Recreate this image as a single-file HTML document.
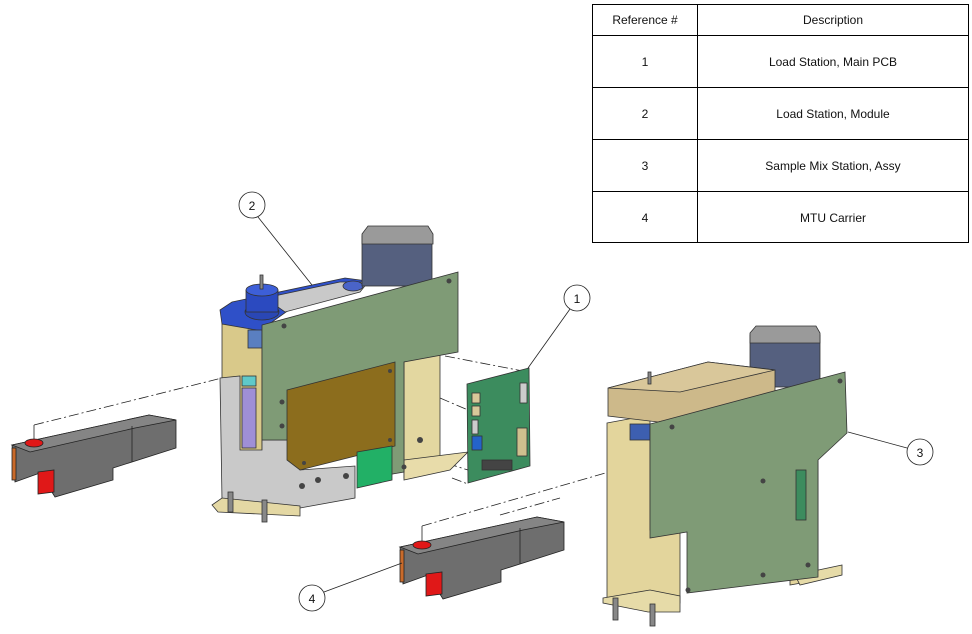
<!DOCTYPE html>
<html><head><meta charset="utf-8"><style>
html,body{margin:0;padding:0;background:#fff;width:972px;height:634px;overflow:hidden}
svg{display:block}
text{font-family:"Liberation Sans",Arial,sans-serif;fill:#111}
</style></head><body>
<svg width="972" height="634" viewBox="0 0 972 634" xmlns="http://www.w3.org/2000/svg">
<!-- table -->
<g stroke="#000" stroke-width="1" fill="none">
<rect x="592.5" y="4.5" width="376" height="238"/>
<line x1="697.5" y1="4.5" x2="697.5" y2="242.5"/>
<line x1="592.5" y1="35.5" x2="968.5" y2="35.5"/>
<line x1="592.5" y1="87.5" x2="968.5" y2="87.5"/>
<line x1="592.5" y1="139.5" x2="968.5" y2="139.5"/>
<line x1="592.5" y1="191.5" x2="968.5" y2="191.5"/>
</g>
<g font-size="12" text-anchor="middle">
<text x="645" y="24">Reference #</text><text x="833" y="24">Description</text>
<text x="645" y="66">1</text><text x="833" y="66">Load Station, Main PCB</text>
<text x="645" y="118">2</text><text x="833" y="118">Load Station, Module</text>
<text x="645" y="170">3</text><text x="833" y="170">Sample Mix Station, Assy</text>
<text x="645" y="222">4</text><text x="833" y="222">MTU Carrier</text>
</g>

<!-- dashed lines -->
<g stroke="#222" stroke-width="0.8" fill="none" stroke-dasharray="10,3,2,3">
<line x1="34" y1="425" x2="222" y2="378"/>
<line x1="445" y1="356" x2="528" y2="372"/>
<line x1="440" y1="398" x2="468" y2="410"/>
<line x1="430" y1="458" x2="468" y2="470"/>
<line x1="452" y1="478" x2="468" y2="484"/>
<line x1="422" y1="526" x2="640" y2="463"/>
<line x1="500" y1="515" x2="560" y2="498"/>
</g>
<line x1="34" y1="425" x2="34" y2="443" stroke="#222" stroke-width="0.8"/>
<line x1="422" y1="526" x2="422" y2="545" stroke="#222" stroke-width="0.8"/>

<!-- ============ Module 2 ============ -->
<g stroke="#333" stroke-width="0.8">
<!-- tan back plates -->
<polygon points="222,323 262,318 262,470 222,470" fill="#d9c98a"/>
<polygon points="404,360 440,352 440,470 404,478" fill="#e3d7a0"/>
<polygon points="404,460 468,452 450,470 404,480" fill="#e8dcaa"/>
<!-- grey bracket -->
<polygon points="220,378 240,376 240,450 262,450 262,440 300,440 300,470 355,466 355,498 300,508 262,506 222,500" fill="#c9c9c9"/>
<rect x="242" y="388" width="14" height="60" fill="#9f8fd6"/>
<rect x="242" y="376" width="14" height="10" fill="#5fc9c9"/>
<!-- blue top -->
<polygon points="220,310 232,302 345,278 375,282 300,302 272,322 268,332 222,324" fill="#2f50c8"/>
<polygon points="265,298 340,282 368,282 360,292 285,312" fill="#c9c9c9"/>
<ellipse cx="262" cy="312" rx="17" ry="8" fill="#2a47b5"/>
<rect x="246" y="290" width="32" height="22" fill="#2b4ac0"/>
<ellipse cx="262" cy="290" rx="16" ry="6" fill="#3d5fd8"/>
<rect x="260" y="275" width="3" height="14" fill="#888"/>
<ellipse cx="353" cy="286" rx="10" ry="5" fill="#4a64c8"/>
<rect x="248" y="330" width="14" height="18" fill="#5a7fc0"/>
<!-- motor -->
<rect x="362" y="236" width="70" height="50" fill="#55607f"/>
<polygon points="362,234 368,226 428,226 433,234 433,244 362,244" fill="#9a9a9a"/>
<!-- green plate -->
<polygon points="262,325 458,272 458,352 404,362 404,472 358,480 358,440 262,440" fill="#7f9b76"/>
<!-- brown panel -->
<polygon points="287,390 395,362 395,446 300,470 287,460" fill="#8c6d1d"/>
<!-- green small -->
<polygon points="357,452 392,446 392,480 357,488" fill="#22b066"/>
<!-- foot -->
<polygon points="212,505 222,498 300,506 300,516 218,512" fill="#e4d8a4"/>
<rect x="228" y="492" width="5" height="20" fill="#888"/>
<rect x="262" y="500" width="5" height="22" fill="#888"/>
</g>
<g fill="#444">
<circle cx="284" cy="326" r="2.5"/><circle cx="449" cy="281" r="2.5"/><circle cx="282" cy="402" r="2.5"/>
<circle cx="282" cy="426" r="2.5"/><circle cx="390" cy="371" r="2"/><circle cx="390" cy="440" r="2"/>
<circle cx="304" cy="463" r="2"/><circle cx="302" cy="486" r="3"/><circle cx="318" cy="480" r="3"/><circle cx="346" cy="476" r="3"/>
<circle cx="404" cy="467" r="2.5"/><circle cx="420" cy="440" r="3"/>
</g>

<!-- ============ PCB 1 ============ -->
<g stroke="#333" stroke-width="0.8">
<polygon points="467,384 529,368 530,466 468,483" fill="#3c8c5e"/>
<rect x="472" y="393" width="8" height="10" fill="#d8c89a"/>
<rect x="472" y="406" width="8" height="10" fill="#d8c89a"/>
<rect x="472" y="420" width="6" height="14" fill="#ccc"/>
<rect x="472" y="436" width="10" height="14" fill="#2463c9"/>
<rect x="520" y="383" width="7" height="20" fill="#ccc"/>
<rect x="517" y="428" width="10" height="28" fill="#cfc08e"/>
<rect x="482" y="460" width="30" height="10" fill="#444"/>
</g>

<!-- ============ Carrier left ============ -->
<g stroke="#222" stroke-width="0.8">
<polygon points="12,445 149,415 176,420 176,448 132,462 113,468 113,480 55,497 40,473 15,482" fill="#6e6e6e"/>
<polygon points="12,445 149,415 176,420 135,428 30,452" fill="#858585"/>
<line x1="132" y1="426" x2="132" y2="462"/>
<polygon points="38,472 54,470 54,492 38,494" fill="#e01818"/>
<rect x="12" y="448" width="4" height="32" fill="#c96a2a"/>
<ellipse cx="34" cy="443" rx="9" ry="4" fill="#e01818"/>
</g>
<!-- ============ Carrier 4 ============ -->
<g stroke="#222" stroke-width="0.8" transform="translate(388,102)">
<polygon points="12,445 149,415 176,420 176,448 132,462 113,468 113,480 55,497 40,473 15,482" fill="#6e6e6e"/>
<polygon points="12,445 149,415 176,420 135,428 30,452" fill="#858585"/>
<line x1="132" y1="426" x2="132" y2="462"/>
<polygon points="38,472 54,470 54,492 38,494" fill="#e01818"/>
<rect x="12" y="448" width="4" height="32" fill="#c96a2a"/>
<ellipse cx="34" cy="443" rx="9" ry="4" fill="#e01818"/>
</g>

<!-- ============ Module 3 ============ -->
<g stroke="#333" stroke-width="0.8">
<polygon points="607,423 650,415 650,530 680,524 680,603 607,600" fill="#e3d59c"/>
<polygon points="790,460 818,455 818,580 790,585" fill="#e3d59c"/>
<polygon points="603,598 650,590 680,596 680,612 648,612 603,603" fill="#e6dba8"/>
<polygon points="795,575 842,565 842,575 800,585" fill="#e6dba8"/>
<rect x="750" y="335" width="70" height="52" fill="#55607f"/>
<polygon points="750,333 756,326 816,326 820,333 820,343 750,343" fill="#9a9a9a"/>
<polygon points="608,388 708,362 775,370 775,398 658,422 608,416" fill="#cdb98a"/>
<polygon points="608,388 708,362 775,370 680,392" fill="#d9c79a"/>
<rect x="630" y="424" width="20" height="16" fill="#3d5fb0"/>
<polygon points="658,422 845,372 847,433 818,460 818,577 687,593 687,532 650,538 650,424" fill="#7f9b76"/>
<rect x="796" y="470" width="10" height="50" fill="#3c8c5e"/>
<rect x="648" y="372" width="3" height="12" fill="#888"/>
<rect x="613" y="598" width="5" height="22" fill="#888"/>
<rect x="650" y="604" width="5" height="22" fill="#888"/>
</g>
<g fill="#444">
<circle cx="672" cy="427" r="2.5"/><circle cx="840" cy="381" r="2.5"/><circle cx="763" cy="481" r="2.5"/>
<circle cx="763" cy="575" r="2.5"/><circle cx="688" cy="590" r="2.5"/><circle cx="808" cy="565" r="2.5"/>
</g>

<!-- callouts -->
<g stroke="#222" stroke-width="0.8" fill="#fff">
<line x1="258" y1="217" x2="312" y2="285"/>
<line x1="570" y1="309" x2="528" y2="368"/>
<line x1="907" y1="448" x2="848" y2="432"/>
<line x1="324" y1="592" x2="402" y2="563"/>
<circle cx="252" cy="205" r="13"/>
<circle cx="577" cy="298" r="13"/>
<circle cx="920" cy="452" r="13"/>
<circle cx="312" cy="598" r="13"/>
</g>
<g font-size="12" text-anchor="middle">
<text x="252" y="210">2</text><text x="577" y="303">1</text><text x="920" y="457">3</text><text x="312" y="603">4</text>
</g>
</svg>
</body></html>
